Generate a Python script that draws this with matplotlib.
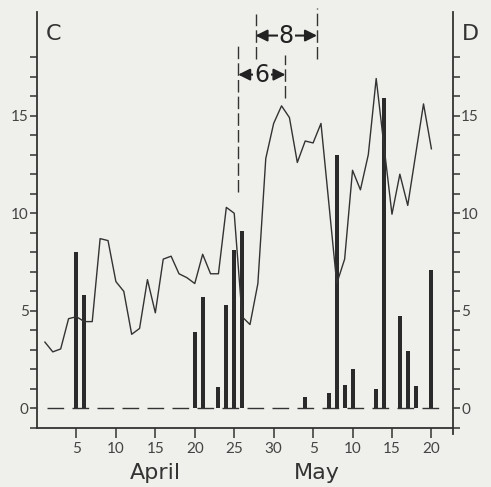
import matplotlib.pyplot as plt
import numpy as np

plt.rcParams['font.family'] = ['Lato', 'DejaVu Sans']

# days counted from 1 April (31 = 1 May)
days = np.arange(1, 51)
line_vals = [3.4, 2.9, 3.05, 4.6, 4.7, 4.45, 4.45, 8.7, 8.6, 6.5,
             6.0, 3.8, 4.1, 6.6, 4.9, 7.65, 7.8, 6.9, 6.7, 6.4,
             7.9, 6.9, 6.9, 10.3, 10.0, 4.7, 4.3, 6.4, 12.8, 14.6,
             15.5, 14.9, 12.6, 13.7, 13.6, 14.6, 10.5, 6.4, 7.65, 12.2,
             11.2, 13.0, 16.9, 13.4, 9.95, 12.0, 10.4, 13.0, 15.6, 13.3]

bar_days = [5, 6, 20, 21, 23, 24, 25, 26, 34, 37, 38, 39, 40, 43, 44, 46, 47, 48, 50]
bar_vals = [8.0, 5.8, 3.9, 5.7, 1.1, 5.3, 8.1, 9.1, 0.6, 0.8, 13.0, 1.2, 2.0,
            1.0, 15.9, 4.75, 2.95, 1.15, 7.1]

xtick_pos = [5, 10, 15, 20, 25, 30, 35, 40, 45, 50]
xtick_lab = ['5', '10', '15', '20', '25', '30', '5', '10', '15', '20']

bg = '#efefeb'
ink = '#333333'

fig = plt.figure(figsize=(4.91, 4.87), dpi=100, facecolor=bg)
ax = fig.add_axes([0.0754, 0.1211, 0.8466, 0.854])
ax.set_facecolor(bg)
ax.set_xlim(0, 52.7)
ax.set_ylim(-1, 20.3)

# rain bars and baseline
ax.bar(bar_days, bar_vals, width=0.5, color='#2a2a2a', zorder=3)
ax.plot([1.3, 51.4], [0, 0], color=ink, lw=1.0, ls=(0, (12, 6)), zorder=2)
ax.plot(days, line_vals, color=ink, lw=1.0, zorder=4)

# spines
ax.spines['top'].set_visible(False)
for s in ['left', 'bottom', 'right']:
    ax.spines[s].set_color(ink)
    ax.spines[s].set_linewidth(1.3)
ax.spines['right'].set_bounds(-1.3, 20.3)

ax.set_yticks([0, 5, 10, 15])
ax.set_yticks(np.arange(-1, 19), minor=True)
ax.tick_params(axis='y', which='both', direction='out', length=5, width=1.1,
               color=ink, labelcolor='#444444', labelsize=11, pad=1,
               right=True, labelright=True)
ax.set_xticks(xtick_pos)
ax.set_xticklabels(xtick_lab)
ax.tick_params(axis='x', direction='out', length=7, width=1.1, color=ink,
               labelcolor='#444444', labelsize=11, pad=3)

lab_font = ['DejaVu Sans']
ax.text(15, -3.3, 'April', ha='center', va='center', fontsize=16, color='#333333',
        family=lab_font, clip_on=False)
ax.text(35.5, -3.3, 'May', ha='center', va='center', fontsize=16, color='#333333',
        family=lab_font, clip_on=False)
ax.text(2.15, 19.2, 'C', ha='center', va='center', fontsize=16, color='#333333', family=lab_font)
ax.text(55, 19.2, 'D', ha='center', va='center', fontsize=16, color='#333333',
        family=lab_font, clip_on=False)

# dashed markers for the intervals
dash = dict(color=ink, lw=1.0, ls=(0, (9, 3)), clip_on=False)
ax.plot([25.5, 25.5], [11.1, 18.6], **dash)
ax.plot([31.5, 31.5], [15.9, 18.1], **dash)
ax.plot([27.7, 27.7], [17.9, 20.2], **dash)
ax.plot([35.5, 35.5], [17.9, 20.5], **dash)

arrow = dict(arrowstyle='<|-|>,head_length=0.7,head_width=0.35', color='#222222', lw=1.5,
             shrinkA=0, shrinkB=0)
ax.annotate('', xy=(25.5, 17.1), xytext=(31.5, 17.1), arrowprops=arrow, annotation_clip=False)
ax.text(28.5, 17.1, '6', ha='center', va='center', fontsize=17, color='#222222',
        family=lab_font, bbox=dict(boxstyle='square,pad=0.05', fc=bg, ec='none'))
ax.annotate('', xy=(27.7, 19.1), xytext=(35.5, 19.1), arrowprops=arrow, annotation_clip=False)
ax.text(31.6, 19.1, '8', ha='center', va='center', fontsize=17, color='#222222',
        family=lab_font, bbox=dict(boxstyle='square,pad=0.05', fc=bg, ec='none'))

fig.savefig('out.png', dpi=100, facecolor=bg)
